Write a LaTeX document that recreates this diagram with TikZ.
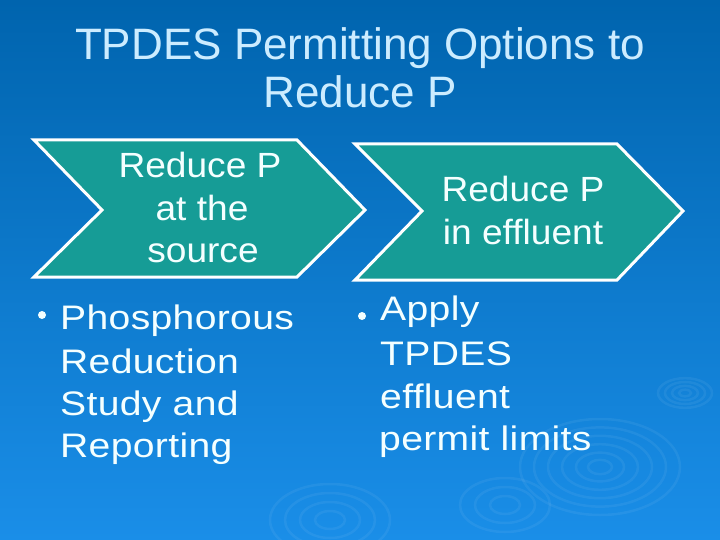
\documentclass[tikz,border=0pt]{standalone}
\usepackage{fontspec}
\setmainfont{Liberation Sans}
\newfontfamily\titlefont{Liberation Sans}
\newfontfamily\chevfont[FakeStretch=1.06]{Liberation Sans}
\newfontfamily\bulfont[FakeStretch=1.15,LetterSpace=1]{Liberation Sans}
\definecolor{bgtop}{RGB}{0,100,174}
\definecolor{bgmid}{RGB}{0,106,182}
\definecolor{bgbot}{RGB}{26,142,232}
\definecolor{chevfill}{RGB}{22,156,150}
\definecolor{titlecol}{RGB}{204,236,255}
\definecolor{txtcol}{RGB}{244,255,255}
\tikzset{
  chevron/.style={draw=white, line width=3bp, fill=chevfill, line join=miter},
  titletext/.style={text=titlecol, font=\titlefont\fontsize{44bp}{48bp}\selectfont, anchor=base, inner sep=0pt},
  chevtext/.style={text=txtcol, font=\chevfont\fontsize{35bp}{42bp}\selectfont, anchor=base, inner sep=0pt},
  bultext/.style={text=txtcol, font=\bulfont\fontsize{34bp}{43bp}\selectfont, anchor=base west, inner sep=0pt},
  bulletdot/.style={fill=txtcol, circle, inner sep=0pt, minimum size=8bp},
  ripple/.style={draw=white, opacity=0.06, line width=2.5bp}
}
\begin{document}
\begin{tikzpicture}[x=1bp,y=-1bp]
\useasboundingbox (0,0) rectangle (720,540);
\shade[top color=bgtop, middle color=bgmid, bottom color=bgbot] (0,0) rectangle (720,540);
% ripples
\foreach \r in {12,24,38,52,66,80} {
  \draw[ripple] (600,467) ellipse ({\r} and {0.6*\r});
}
\foreach \r in {6,13,20,27} {
  \draw[ripple] (685,393) ellipse ({\r} and {0.55*\r});
}
\foreach \r in {15,30,45,60} {
  \draw[ripple] (330,520) ellipse ({\r} and {0.6*\r});
}
\foreach \r in {15,30,45} {
  \draw[ripple] (505,505) ellipse ({\r} and {0.6*\r});
}
% title
\node[titletext] (t1) at (360,60) {TPDES Permitting Options to};
\node[titletext] (t2) at (360,108) {Reduce P};
% chevrons
\draw[chevron] (34,140) -- (297,140) -- (365,210) -- (297,277) -- (34,277) -- (102,210) -- cycle;
\draw[chevron] (355,144) -- (617,144) -- (683,211) -- (617,280) -- (355,280) -- (422,211) -- cycle;
\node[chevtext] (c1a) at (200,178) {Reduce P};
\node[chevtext] (c1b) at (202,221) {at the};
\node[chevtext] (c1c) at (203,263) {source};
\node[chevtext] (c2a) at (523,202) {Reduce P};
\node[chevtext] (c2b) at (523,245) {in effluent};
% bullets column 1
\node[bulletdot] (b1) at (42,315) {};
\node[bultext] (l1a) at (60,329) {Phosphorous};
\node[bultext] (l1b) at (60,373) {Reduction};
\node[bultext] (l1c) at (60,415) {Study and};
\node[bultext] (l1d) at (60,457) {Reporting};
% bullets column 2
\node[bulletdot] (b2) at (362,316) {};
\node[bultext] (l2a) at (380,320) {Apply};
\node[bultext] (l2b) at (380,365) {TPDES};
\node[bultext] (l2c) at (380,408) {effluent};
\node[bultext] (l2d) at (379,450) {permit limits};
\end{tikzpicture}
\end{document}
